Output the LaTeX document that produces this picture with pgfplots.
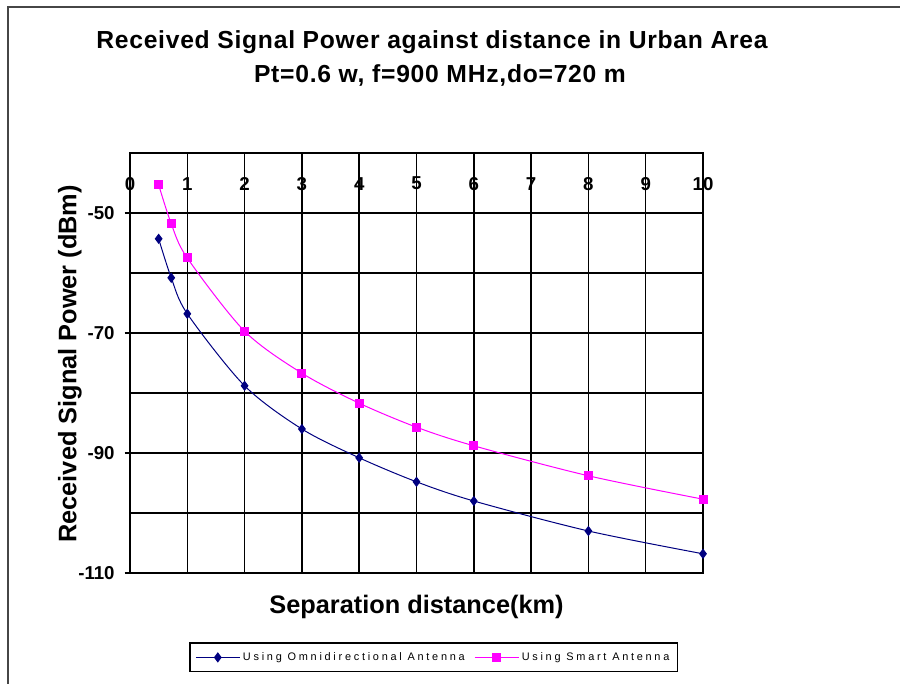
\documentclass[border=0pt]{standalone}
\usepackage{fontspec}
\setmainfont{Liberation Sans}
\newfontfamily\legfont[LetterSpace=25]{Liberation Sans}
\newfontfamily\titlefont[LetterSpace=3]{Liberation Sans}
\usepackage{pgfplots}
\pgfplotsset{compat=1.18}
\definecolor{navyc}{RGB}{0,0,128}
\definecolor{magc}{RGB}{255,0,255}
\definecolor{framec}{RGB}{70,70,70}
\begin{document}
\begin{tikzpicture}[x=1pt,y=1pt]
\path[use as bounding box] (0,0) rectangle (675,513);
\draw[framec, line width=1.5pt] (6,0) -- (6,507.75) -- (676,507.75);
\node[font=\titlefont\bfseries\fontsize{18.5}{22}\selectfont] at (324,481.5) {Received Signal Power against distance in Urban Area};
\node[font=\titlefont\bfseries\fontsize{18.5}{22}\selectfont] at (330,456.75) {Pt=0.6 w, f=900 MHz,do=720 m};
\begin{axis}[
  at={(97.5pt,83.25pt)}, anchor=south west,
  scale only axis, width=429.75pt, height=315pt,
  xmin=0, xmax=10, ymin=-110, ymax=-40,
  xtick={0,1,...,10},
  ytick={-110,-90,-70,-50},
  minor ytick={-100,-80,-60},
  grid=both,
  grid style={black, line width=1.1pt},
  minor grid style={black, line width=1.1pt},
  axis line style={black, line width=1.1pt},
  tick align=outside,
  ytick pos=left,
  xtick pos=upper,
  major tick length=4pt,
  minor tick length=0pt,
  xtick style={draw=none},
  ytick style={black, line width=1.1pt},
  xticklabel pos=upper,
  /pgf/number format/assume math mode=true,
  tick label style={font=\bfseries\fontsize{14}{16}\selectfont},
  xticklabel style={anchor=center, yshift=-27pt},
  yticklabel style={xshift=-4pt},
  xlabel={Separation distance(km)},
  ylabel={Received Signal Power (dBm)},
  label style={font=\bfseries\fontsize{19}{22}\selectfont},
  xlabel style={at={(axis description cs:0.5,-0.081)}, anchor=center},
  ylabel style={at={(axis description cs:-0.105,0.498)}, anchor=center, rotate=0},
  legend columns=2,
  legend style={at={(axis description cs:0.530,-0.201)}, anchor=center,
    font=\legfont\fontsize{8.2}{9}\selectfont, draw=black, line width=1.1pt,
    inner xsep=4pt, inner ysep=5pt,
    /tikz/every even column/.append style={column sep=5pt}},
  legend image code/.code={\draw[mark repeat=2,mark phase=2, line width=0.75pt] plot coordinates {(0pt,0pt) (16.5pt,0pt) (33pt,0pt)};},
]
\addplot[navyc, line width=0.75pt, smooth, mark=diamond*, mark size=3.3pt, mark options={fill=navyc, solid}] coordinates {
(0.5,-54.3) (0.72,-60.8) (1,-66.8) (2,-78.8) (3,-86) (4,-90.8) (5,-94.8) (6,-98) (8,-103) (10,-106.8)};
\addlegendentry{Using Omnidirectional Antenna}
\addplot[magc, line width=0.75pt, smooth, mark=square*, mark size=3pt, mark options={fill=magc, solid}] coordinates {
(0.5,-45.3) (0.72,-51.8) (1,-57.5) (2,-69.7) (3,-76.7) (4,-81.7) (5,-85.7) (6,-88.8) (8,-93.8) (10,-97.7)};
\addlegendentry{Using Smart Antenna}
\end{axis}
\end{tikzpicture}
\end{document}
